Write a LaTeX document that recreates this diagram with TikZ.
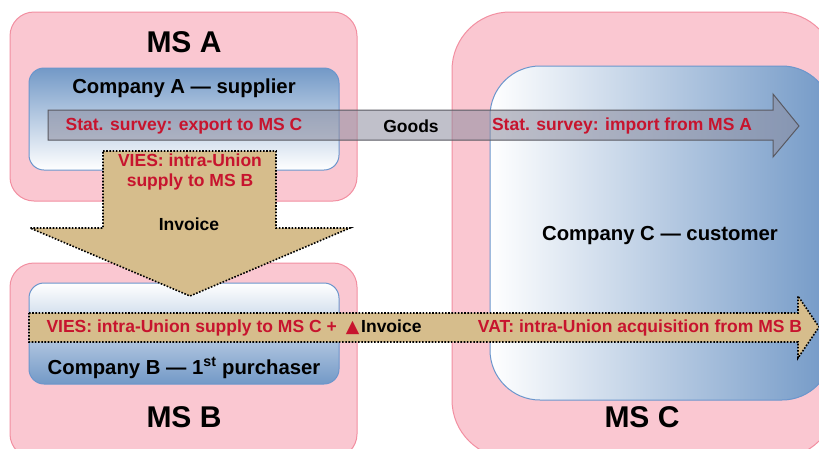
\documentclass[tikz,border=0pt]{standalone}
\usepackage{fontspec}
\setmainfont{Liberation Sans}
\newfontfamily\symfont{DejaVu Sans}
\newlength{\du}
\setlength{\du}{1pt}
\definecolor{msfill}{rgb}{0.980000, 0.780000, 0.820000}
\definecolor{msline}{rgb}{0.950000, 0.560000, 0.630000}
\definecolor{coblue}{rgb}{0.450000, 0.600000, 0.780000}
\definecolor{coline}{rgb}{0.420000, 0.590000, 0.800000}
\definecolor{tanfill}{rgb}{0.840000, 0.740000, 0.550000}
\definecolor{goodsfill}{rgb}{0.550000, 0.550000, 0.620000}
\definecolor{goodsline}{rgb}{0.350000, 0.350000, 0.380000}
\definecolor{redtext}{rgb}{0.780000, 0.080000, 0.180000}
\tikzset{
  msbox/.style={fill=msfill, draw=msline, line width=1\du},
  cobox/.style={draw=coline, line width=1\du},
  tanarrow/.style={fill=tanfill, draw=black, line width=1.6\du, dash pattern=on 1.6\du off 1.6\du},
  mslabel/.style={font=\bfseries\fontsize{30}{32}\selectfont},
  colabel/.style={font=\bfseries\fontsize{20.3}{23}\selectfont},
  redlabel/.style={font=\bfseries\fontsize{17.5}{19.5}\selectfont, text=redtext, align=center},
  blacklabel/.style={font=\bfseries\fontsize{17.5}{19.5}\selectfont}
}

\begin{document}
\begin{tikzpicture}
\pgftransformxscale{1.000000}
\pgftransformyscale{-1.000000}
\useasboundingbox (0\du,0\du) rectangle (819\du,448\du);
\clip (0\du,0\du) rectangle (819\du,448\du);
% MS A
\draw[msbox, rounded corners=24\du] (10\du,12\du) rectangle (357\du,201\du);
\shade[top color=coblue, bottom color=white, rounded corners=15\du] (29\du,68\du) rectangle (339\du,170\du);
\draw[cobox, rounded corners=15\du] (29\du,68\du) rectangle (339\du,170\du);
% MS C
\draw[msbox, rounded corners=58\du] (452\du,12\du) rectangle (836\du,458\du);
\shade[left color=white, right color=coblue, rounded corners=50\du] (490\du,66\du) rectangle (832\du,400\du);
\draw[cobox, rounded corners=50\du] (490\du,66\du) rectangle (832\du,400\du);
% MS B
\draw[msbox, rounded corners=24\du] (10\du,263\du) rectangle (357\du,458\du);
\shade[top color=white, bottom color=coblue, rounded corners=15\du] (29\du,283\du) rectangle (339\du,384\du);
\draw[cobox, rounded corners=15\du] (29\du,283\du) rectangle (339\du,384\du);
% goods
\fill[goodsfill, fill opacity=0.55] (48\du,110\du)--(773\du,110\du)--(773\du,94\du)--(799\du,126\du)--(773\du,157\du)--(773\du,140\du)--(48\du,140\du)--cycle;
\draw[goodsline, line width=1\du] (48\du,110\du)--(773\du,110\du)--(773\du,94\du)--(799\du,126\du)--(773\du,157\du)--(773\du,140\du)--(48\du,140\du)--cycle;
% invoice down
\draw[tanarrow] (103\du,151\du)--(276\du,151\du)--(276\du,228\du)--(350\du,228\du)--(190\du,296\du)--(30\du,228\du)--(103\du,228\du)--cycle;
% invoice right
\draw[tanarrow] (29\du,313\du)--(798\du,313\du)--(798\du,296\du)--(819\du,327\du)--(798\du,358\du)--(798\du,342\du)--(29\du,342\du)--cycle;
% labels
\node[mslabel] (msa) at (184\du,42\du){MS A};
\node[mslabel] (msb) at (184\du,417\du){MS B};
\node[mslabel] (msc) at (642\du,417\du){MS C};
\node[colabel] (coa) at (184\du,88\du){Company A --- supplier};
\node[colabel] (cob) at (184\du,368\du){Company B --- 1\textsuperscript{st} purchaser};
\node[colabel] (coc) at (660\du,236\du){Company C --- customer};
\node[redlabel] (export) at (184\du,126\du){Stat. survey: export to MS C};
\node[blacklabel] (goods) at (411\du,126\du){Goods};
\node[redlabel] (import) at (622\du,126\du){Stat. survey: import from MS A};
\node[redlabel] (viesb) at (190\du,172\du){VIES: intra-Union\\supply to MS B};
\node[blacklabel] (invdown) at (189\du,224\du){Invoice};
\node[redlabel, anchor=west] (viesc) at (43\du,328\du){VIES: intra-Union supply to MS C +\hspace{9\du}{\symfont▲}\hspace{2\du}\textcolor{black}{Invoice}};
\node[redlabel] (vat) at (640\du,328\du){VAT: intra-Union acquisition from MS B};
\end{tikzpicture}
\end{document}
